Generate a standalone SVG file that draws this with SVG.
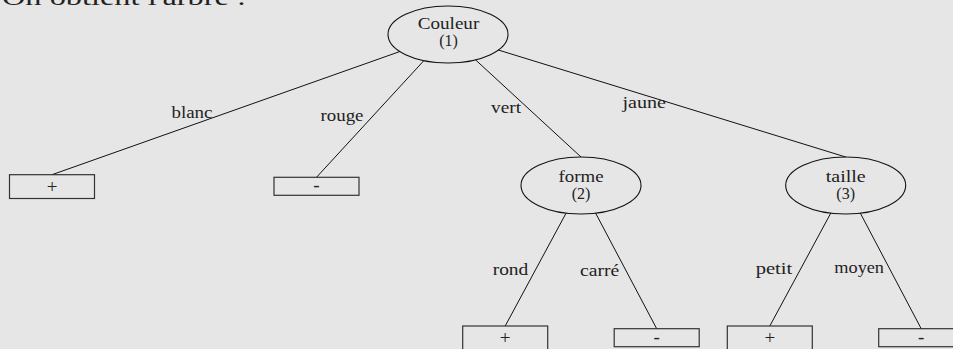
<svg xmlns="http://www.w3.org/2000/svg" width="953" height="349" viewBox="0 0 953 349">
<style>
.bg{fill:#e6e6e6}
.node{fill:none;stroke:#111;stroke-width:1.1}
.box{fill:none;stroke:#333;stroke-width:1.2}
.edge{stroke:#111;stroke-width:1;fill:none}
text{font-family:"Liberation Serif","DejaVu Serif",serif;fill:#222}
.nt{font-size:16px;text-anchor:middle}
.lb{font-size:16px}
.sg{font-size:19px;text-anchor:middle}
</style>
<rect class="bg" x="0" y="0" width="953" height="349"/>
<text x="2" y="5" style="font-size:24px" textLength="244" lengthAdjust="spacingAndGlyphs">On obtient l'arbre :</text>
<g id="connectors">
<line class="edge" x1="399.9" y1="51.5" x2="52" y2="174.7"/>
<line class="edge" x1="423.9" y1="60.6" x2="316.5" y2="177.3"/>
<line class="edge" x1="475.5" y1="59.8" x2="581" y2="157"/>
<line class="edge" x1="498.3" y1="50" x2="845.7" y2="157"/>
<line class="edge" x1="566.1" y1="213.1" x2="505.2" y2="326"/>
<line class="edge" x1="595.6" y1="213.1" x2="656.7" y2="328.7"/>
<line class="edge" x1="830.8" y1="213.1" x2="769.8" y2="326"/>
<line class="edge" x1="860.3" y1="213.1" x2="921.2" y2="328.7"/>
<text class="lb" x="171.5" y="117.5" textLength="41" lengthAdjust="spacingAndGlyphs">blanc</text>
<text class="lb" x="320.5" y="120.5" textLength="43" lengthAdjust="spacingAndGlyphs">rouge</text>
<text class="lb" x="491" y="112.8" textLength="30" lengthAdjust="spacingAndGlyphs">vert</text>
<text class="lb" x="622.5" y="107.5" textLength="43.5" lengthAdjust="spacingAndGlyphs">jaune</text>
<text class="lb" x="492.7" y="275" textLength="35.6" lengthAdjust="spacingAndGlyphs">rond</text>
<text class="lb" x="580" y="276" textLength="39.3" lengthAdjust="spacingAndGlyphs">carré</text>
<text class="lb" x="755.7" y="274.3" textLength="36.6" lengthAdjust="spacingAndGlyphs">petit</text>
<text class="lb" x="834.3" y="272.5" textLength="49.7" lengthAdjust="spacingAndGlyphs">moyen</text>
</g>
<g id="n-couleur">
<ellipse class="node" cx="448" cy="34.5" rx="60" ry="28.5"/>
<text class="nt" x="448.5" y="29" textLength="61.5" lengthAdjust="spacingAndGlyphs">Couleur</text>
<text class="nt" x="448.5" y="45.5">(1)</text>
</g>
<g id="n-blanc">
<rect class="box" x="9.5" y="174.7" width="85" height="23.8"/>
<text class="sg" x="52" y="192.5">+</text>
</g>
<g id="n-rouge">
<rect class="box" x="274" y="177.3" width="85" height="18"/>
<text class="sg" x="316.5" y="191">-</text>
</g>
<g id="n-forme">
<ellipse class="node" cx="581" cy="185.5" rx="60" ry="28.5"/>
<text class="nt" x="581" y="182" textLength="45" lengthAdjust="spacingAndGlyphs">forme</text>
<text class="nt" x="581" y="198.5">(2)</text>
</g>
<g id="n-taille">
<ellipse class="node" cx="845.7" cy="185.5" rx="60" ry="28.5"/>
<text class="nt" x="845.7" y="182" textLength="40" lengthAdjust="spacingAndGlyphs">taille</text>
<text class="nt" x="845.7" y="198.5">(3)</text>
</g>
<g id="n-rond">
<rect class="box" x="462.7" y="326" width="85" height="24"/>
<text class="sg" x="505.2" y="343.5">+</text>
</g>
<g id="n-carre">
<rect class="box" x="614.2" y="328.7" width="85" height="18"/>
<text class="sg" x="656.7" y="342.5">-</text>
</g>
<g id="n-petit">
<rect class="box" x="727.3" y="326" width="85" height="24"/>
<text class="sg" x="769.8" y="343.5">+</text>
</g>
<g id="n-moyen">
<rect class="box" x="878.7" y="328.7" width="85" height="18"/>
<text class="sg" x="921.2" y="342.5">-</text>
</g>
</svg>
